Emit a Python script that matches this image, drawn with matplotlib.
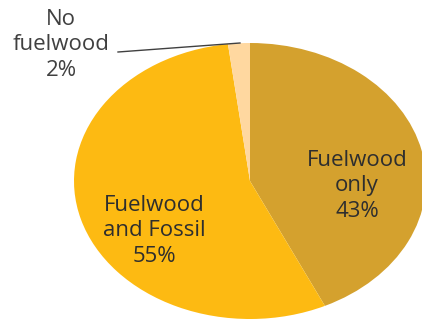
import matplotlib
matplotlib.use("Agg")
import matplotlib.pyplot as plt

categories = ["Fuelwood\nonly", "Fuelwood\nand Fossil", "No\nfuelwood"]
values = [43, 55, 2]
colors = ["#D4A12E", "#FDBA12", "#FFD8A0"]

W, H = 422, 321
cx, cy = 250, 181
rx, ry = 176, 138

fig = plt.figure(figsize=(W / 100, H / 100), dpi=100)
ax = fig.add_axes([0, 0, 1, 1])
ax.pie(values, colors=colors, startangle=90, counterclock=False,
       radius=1, center=(0, 0), wedgeprops=dict(linewidth=0))
ax.set_aspect("auto")
ax.set_xlim(-cx / rx, (W - cx) / rx)
ax.set_ylim(-(H - cy) / ry, cy / ry)
ax.axis("off")

def px(x, y):
    return ((x - cx) / rx, (cy - y) / ry)

font = dict(family="Open Sans", fontsize=16, color="#2e2e2e",
            ha="center", va="center", linespacing=1.28)
ax.text(*px(357, 186), f"{categories[0]}\n{values[0]}%", **font)
ax.text(*px(154, 231), f"{categories[1]}\n{values[1]}%", **font)
ax.text(*px(61, 45), f"{categories[2]}\n{values[2]}%", **dict(font, color="#404040"))

x0, y0 = px(118, 52)
x1, y1 = px(240, 43)
ax.plot([x0, x1], [y0, y1], color="#404040", linewidth=1)

fig.savefig("out.png", dpi=100)
